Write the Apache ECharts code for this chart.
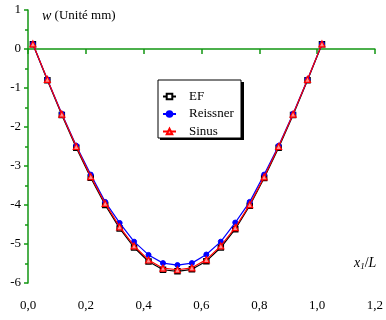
<!DOCTYPE html>
<html>
<head>
<meta charset="utf-8">
<script src="https://cdn.jsdelivr.net/npm/echarts@6/dist/echarts.min.js"></script>
<style>html,body{margin:0;padding:0;background:#fff;}#c{width:386px;height:320px;}</style>
</head>
<body>
<div id="c"></div>
<script>
const xValues = [0.017,0.067,0.117,0.167,0.217,0.267,0.317,0.367,0.417,0.467,0.517,0.567,0.617,0.667,0.717,0.767,0.817,0.867,0.917,0.967,1.017];
const efValues = [0.12,-0.80,-1.69,-2.53,-3.30,-4.00,-4.60,-5.09,-5.45,-5.66,-5.70,-5.65,-5.44,-5.09,-4.62,-4.02,-3.31,-2.53,-1.69,-0.80,0.12];
const reissnerValues = [0.13,-0.78,-1.66,-2.48,-3.22,-3.92,-4.46,-4.94,-5.28,-5.49,-5.54,-5.49,-5.27,-4.94,-4.45,-3.92,-3.22,-2.48,-1.66,-0.78,0.13];
const sinusValues = [0.13,-0.78,-1.67,-2.50,-3.27,-3.96,-4.56,-5.05,-5.41,-5.62,-5.66,-5.61,-5.40,-5.05,-4.58,-3.99,-3.28,-2.50,-1.67,-0.78,0.13];
const seriesNames = ['EF','Reissner','Sinus'];
const xTickLabels = ['0,0','0,2','0,4','0,6','0,8','1,0','1,2'];
const yTickLabels = ['-6','-5','-4','-3','-2','-1','0','1'];

const green = '#129612';
const font = 'Liberation Serif';
const pair = arr => xValues.map((x,i)=>[x,arr[i]]);

const chart = echarts.init(document.getElementById('c'));
chart.setOption({
  animation:false,
  backgroundColor:'#fff',
  grid:{left:28,right:3,top:10,bottom:37},
  xAxis:{
    type:'value',min:0,max:1.2,interval:0.2,
    axisLine:{lineStyle:{color:green,width:1.5}},
    axisTick:{show:true,inside:false,length:5,lineStyle:{color:green,width:1.5}},
    splitLine:{show:false},
    axisLabel:{margin:16,color:'#000',fontFamily:font,fontSize:13,
      formatter:v=>xTickLabels[Math.round(v/0.2)]}
  },
  yAxis:{
    type:'value',min:-6,max:1,interval:1,
    axisLine:{show:true,lineStyle:{color:green,width:1.5}},
    axisTick:{show:true,inside:false,length:4,lineStyle:{color:green,width:1.5}},
    minorTick:{show:true,splitNumber:2,length:3,lineStyle:{color:green,width:1.5}},
    splitLine:{show:false},
    axisLabel:{margin:7,color:'#000',fontFamily:font,fontSize:13,
      formatter:v=>yTickLabels[Math.round(v+6)]}
  },
  legend:{
    orient:'vertical',left:162,top:90,padding:0,itemWidth:13,itemHeight:7,itemGap:4.5,
    data:seriesNames,
    textStyle:{fontFamily:font,fontSize:13,color:'#000',lineHeight:13,padding:[0,0,0,8]},
    z:20
  },
  graphic:[
    {type:'rect',shape:{x:160,y:82,width:84,height:58},style:{fill:'#000'},z:10},
    {type:'rect',shape:{x:158,y:80,width:83,height:58},style:{fill:'#fff',stroke:'#000',lineWidth:1},z:11},
    {type:'text',left:42,top:9,z:20,style:{
      text:'{i|w} (Unité mm)',fontFamily:font,fontSize:13,fill:'#000',
      rich:{i:{fontStyle:'italic',fontFamily:font,fontSize:14}}}},
    {type:'text',left:354,top:256,z:20,style:{
      text:'{i|x}{s|1}{n|/}{i|L}',fontFamily:font,fontSize:13,fill:'#000',
      rich:{i:{fontStyle:'italic',fontFamily:font,fontSize:14},
            s:{fontStyle:'italic',fontFamily:font,fontSize:9,padding:[8,0,0,0]},
            n:{fontFamily:font,fontSize:14}}}}
  ],
  series:[
    {name:'EF',type:'line',data:pair(efValues),symbol:'rect',symbolSize:5,
      lineStyle:{color:'#000',width:1.2},
      itemStyle:{color:'#fff',borderColor:'#000',borderWidth:1.5},z:2},
    {name:'Reissner',type:'line',data:pair(reissnerValues),symbol:'circle',symbolSize:5,
      lineStyle:{color:'#0000ff',width:1.2},
      itemStyle:{color:'#0000ff',borderColor:'#0000ff',borderWidth:1},z:3},
    {name:'Sinus',type:'line',data:pair(sinusValues),symbol:'triangle',symbolSize:6,
      lineStyle:{color:'#ff0000',width:1.2},
      itemStyle:{color:'#ff9090',borderColor:'#ff0000',borderWidth:1.2},z:4}
  ]
});
</script>
</body>
</html>
